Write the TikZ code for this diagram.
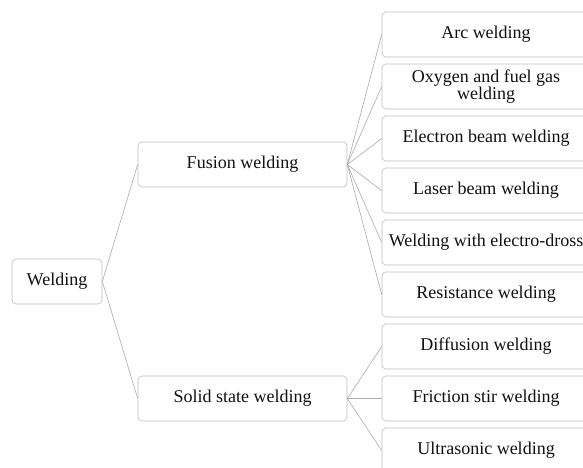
\documentclass[tikz,border=0pt]{standalone}
\usepackage{fontspec}
\setmainfont{Liberation Serif}
\definecolor{boxgray}{HTML}{BEBEBE}
\definecolor{linegray}{HTML}{ABABAB}
\definecolor{txtgray}{HTML}{111111}
\tikzset{
  box/.style={draw=boxgray, fill=white, rounded corners=4pt, line width=0.6pt,
    minimum height=45pt, inner sep=2pt, align=center, text=txtgray,
    font=\fontsize{18}{17.5}\selectfont},
  root/.style={box, minimum width=90pt},
  branch/.style={box, minimum width=209pt},
  leaf/.style={box, minimum width=208pt},
  link/.style={draw=linegray, line width=0.6pt}
}
\begin{document}
\begin{tikzpicture}[x=1pt,y=-1pt]
\clip (0,0) rectangle (583,468);
\fill[white] (0,0) rectangle (583,468);

% main levels
\node[root] (weld) at (57,281.5) {Welding};
\node[branch] (fusion) at (242.5,164.5) {Fusion welding};
\node[branch] (solid) at (242.5,398.5) {Solid state welding};

% processes
\foreach \name/\i/\txt in {arc/0/{Arc welding}, oxy/1/{Oxygen and fuel gas\\welding},
    ebeam/2/{Electron beam welding}, laser/3/{Laser beam welding},
    dross/4/{Welding with electro-dross}, resist/5/{Resistance welding},
    diff/6/{Diffusion welding}, fric/7/{Friction stir welding},
    ultra/8/{Ultrasonic welding}}
  \node[leaf] (\name) at (486,{34.5+52*\i}) {\txt};

\draw[link] (weld.east) -- (fusion.west);
\draw[link] (weld.east) -- (solid.west);
\foreach \c in {arc,oxy,ebeam,laser,dross,resist} \draw[link] (fusion.east) -- (\c.west);
\foreach \c in {diff,fric,ultra} \draw[link] (solid.east) -- (\c.west);
\end{tikzpicture}
\end{document}
